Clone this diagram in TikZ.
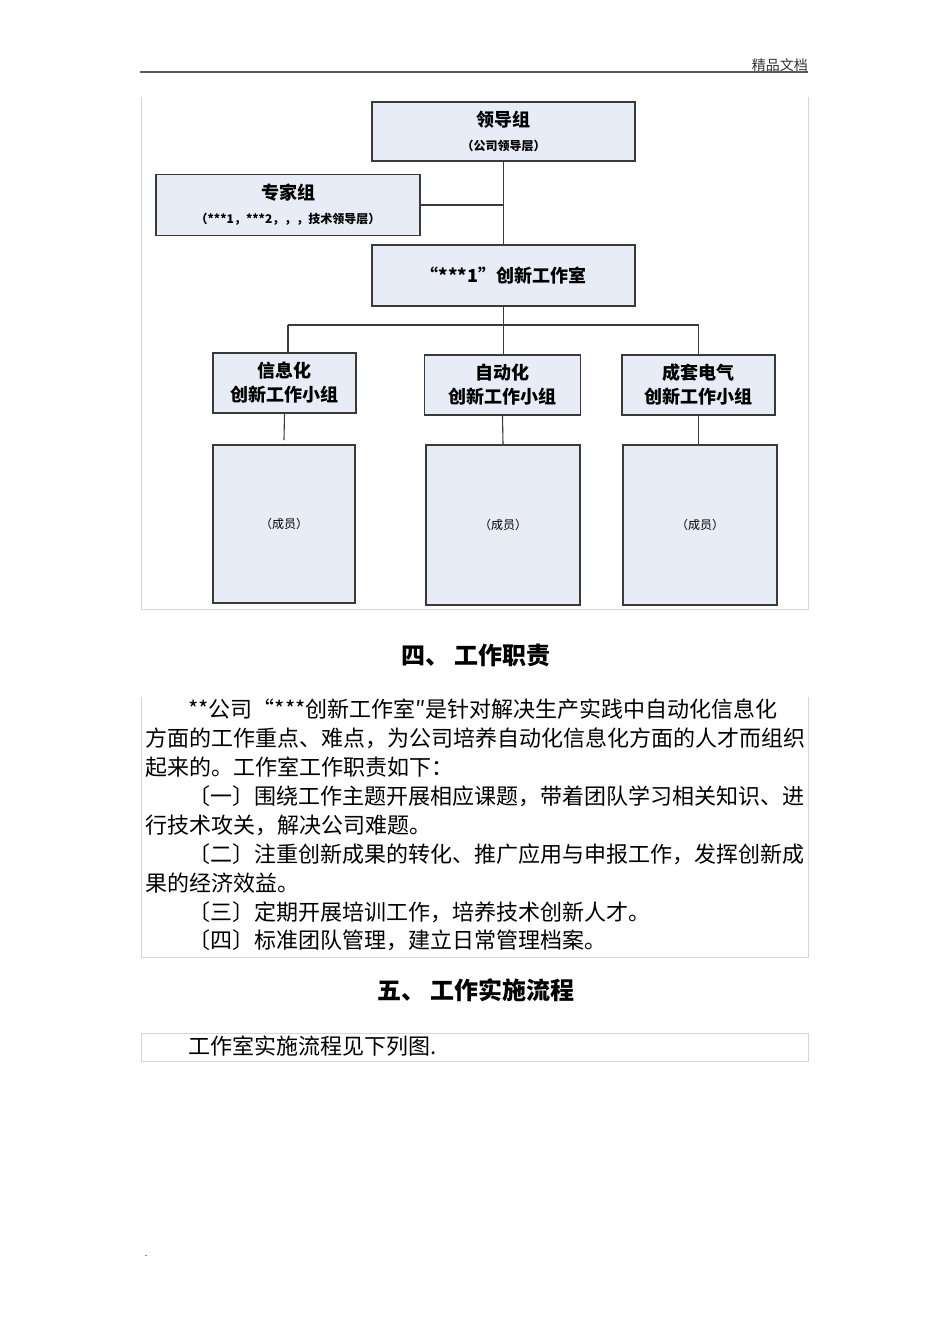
\documentclass[tikz,border=0pt]{standalone}
\usepackage{fontspec}
\setmainfont{Liberation Serif}
\newfontfamily\cjk{Noto Sans CJK SC}
\definecolor{boxfill}{HTML}{E8ECF7}
\definecolor{boxline}{HTML}{3A3A3A}
\definecolor{rulegray}{HTML}{D6D6D6}
\definecolor{headgray}{HTML}{5A5A5A}
\newcommand{\titlefont}{\cjk\bfseries\fontsize{18}{24}\selectfont}
\newcommand{\notefont}{\cjk\fontsize{12}{14}\selectfont}
\tikzset{
  orgbox/.style={draw=boxline, fill=boxfill, line width=1.3pt, inner sep=0pt, align=center, font=\titlefont},
  notebox/.style={orgbox, font=\notefont},
  link/.style={draw=boxline, line width=1.1pt},
  cell/.style={draw=rulegray, line width=0.9pt},
  bodyline/.style={anchor=west, inner sep=0pt, font=\cjk\fontsize{22}{22}\selectfont},
  heading/.style={inner sep=0pt, font=\cjk\bfseries\fontsize{24}{24}\selectfont},
}
\begin{document}
\begin{tikzpicture}[x=1pt,y=-1pt]
    \useasboundingbox[fill=white] (0,0) rectangle (950,1344);

    % page header
    \node[anchor=east, inner sep=0pt, font=\cjk\fontsize{14}{14}\selectfont, text=black!80] (hdr) at (808,65) {精品文档};
    \coordinate (ruleL) at (140,72);
    \coordinate (ruleR) at (808,72);
    \draw[draw=headgray, line width=2pt] (ruleL) -- (ruleR);

    % table cell round the chart
    \coordinate (c1) at (141,97);
    \coordinate (c2) at (141,609);
    \coordinate (c3) at (808,609);
    \coordinate (c4) at (808,97);
    \draw[cell] (c1) -- (c2) -- (c3) -- (c4);

    \node[orgbox, minimum width=263, minimum height=59] (lead) at (503.5,131.5)
        {领导组\\[0pt]{\notefont （公司领导层）}};
    \node[orgbox, minimum width=264, minimum height=61] (expert) at (288,205)
        {专家组\\[0pt]{\notefont （***1，***2，，，技术领导层）}};
    \node[orgbox, minimum width=263, minimum height=61] (studio) at (503.5,275.5)
        {“***1”创新工作室};

    \node[orgbox, minimum width=143, minimum height=60] (g1) at (284.5,383)
        {信息化\\创新工作小组};
    \node[orgbox, minimum width=156, minimum height=60] (g2) at (502.5,385)
        {自动化\\创新工作小组};
    \node[orgbox, minimum width=153, minimum height=60] (g3) at (698.5,385)
        {成套电气\\创新工作小组};

    \node[notebox, minimum width=142, minimum height=158] (m1) at (284,524) {（成员）};
    \node[notebox, minimum width=154, minimum height=160] (m2) at (503,525) {（成员）};
    \node[notebox, minimum width=154, minimum height=160] (m3) at (700,525) {（成员）};

    \coordinate (bus) at (503.5,325);
    \coordinate (busL) at (288,325);
    \coordinate (busR) at (698.5,325);
    \coordinate (g1end) at (284,440);

    \draw[link] (lead.south) -- (studio.north);
    \draw[link] (expert.east) -- (expert.east -| lead.south);
    \draw[link] (studio.south) -- (bus);
    \draw[link] (busL) -- (busR);
    \draw[link] (busL) -- (busL |- g1.north);
    \draw[link] (bus) -- (bus |- g2.north);
    \draw[link] (busR) -- (busR |- g3.north);
    \draw[link] (g1.south) -- (g1end);
    \draw[link] (g2.south) -- (m2.north);
    \draw[link] (g3.south) -- (g3.south |- m3.north);

    % section four
    \node[heading] (h4) at (476,655) {四、 工作职责};

    \coordinate (t1) at (141,697);
    \coordinate (t2) at (141,957);
    \coordinate (t3) at (808,957);
    \coordinate (t4) at (808,697);
    \draw[cell] (t1) -- (t2) -- (t3) -- (t4);

    \node[bodyline] (p1) at (188,709) {**公司“***创新工作室″是针对解决生产实践中自动化信息化};
    \node[bodyline] (p2) at (145,738) {方面的工作重点、难点，为公司培养自动化信息化方面的人才而组织};
    \node[bodyline] (p3) at (145,767) {起来的。工作室工作职责如下：};
    \node[bodyline] (p4) at (188,796) {〔一〕围绕工作主题开展相应课题，带着团队学习相关知识、进};
    \node[bodyline] (p5) at (145,825) {行技术攻关，解决公司难题。};
    \node[bodyline] (p6) at (188,854) {〔二〕注重创新成果的转化、推广应用与申报工作，发挥创新成};
    \node[bodyline] (p7) at (145,883) {果的经济效益。};
    \node[bodyline] (p8) at (188,912) {〔三〕定期开展培训工作，培养技术创新人才。};
    \node[bodyline] (p9) at (188,940) {〔四〕标准团队管理，建立日常管理档案。};

    % section five
    \node[heading] (h5) at (476,990) {五、 工作实施流程};

    \coordinate (f1) at (141,1033);
    \coordinate (f2) at (808,1061);
    \draw[cell] (f1) rectangle (f2);
    \node[bodyline] (q1) at (188,1046) {工作室实施流程见下列图.};

    \node[inner sep=0pt, font=\fontsize{10}{10}\selectfont] (dot) at (146,1256) {.};
\end{tikzpicture}
\end{document}
